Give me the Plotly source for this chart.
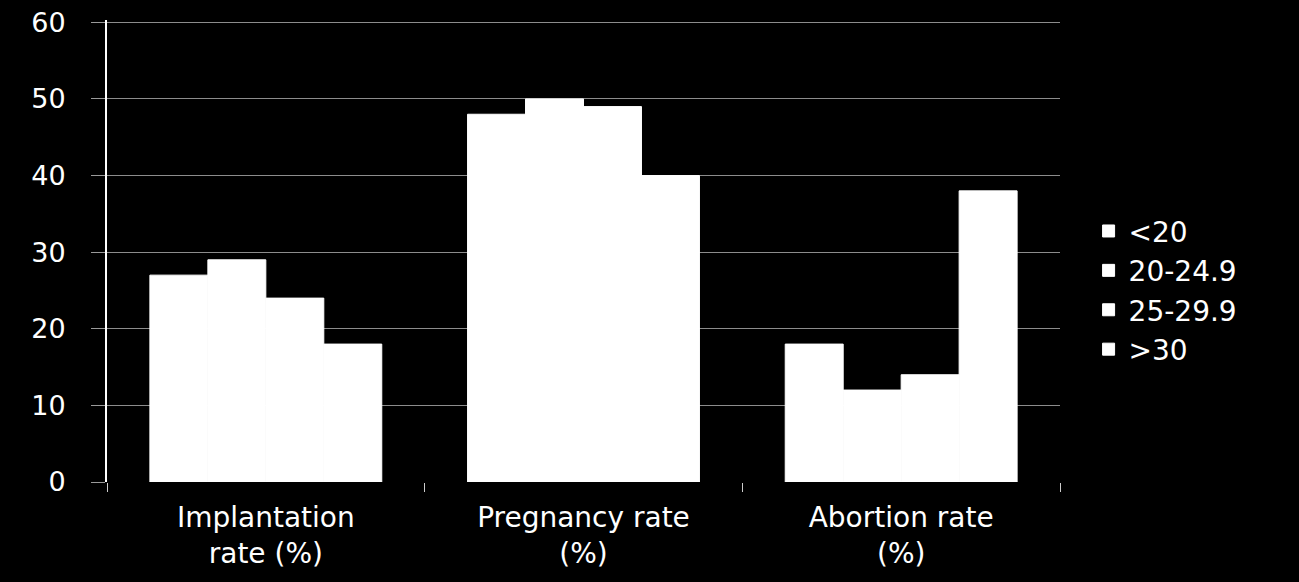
import plotly.graph_objects as go

categories = ["Implantation<br>rate (%)", "Pregnancy rate<br>(%)", "Abortion rate<br>(%)"]
series_names = ["<20", "20-24.9", "25-29.9", ">30"]
values_lt20 = [27, 48, 18]
values_20_249 = [29, 50, 12]
values_25_299 = [24, 49, 14]
values_gt30 = [18, 40, 38]
y_ticks = [0, 10, 20, 30, 40, 50, 60]

series_values = [values_lt20, values_20_249, values_25_299, values_gt30]

fig = go.Figure()
for name, vals in zip(series_names, series_values):
    fig.add_trace(go.Bar(x=categories, y=vals, name=name,
                         marker=dict(color="white", line=dict(width=1, color="white"))))

font_family = "DejaVu Sans, Verdana, sans-serif"
fig.update_layout(
    width=1299, height=582,
    margin=dict(l=107, r=239, t=20, b=100, autoexpand=False),
    paper_bgcolor="black", plot_bgcolor="black",
    barmode="group", bargap=0.27, bargroupgap=0,
    font=dict(family=font_family, color="white", size=27),
    showlegend=True,
    legend=dict(x=1.03, y=0.415, yanchor="middle", xanchor="left",
                font=dict(size=28, color="white"), bgcolor="rgba(0,0,0,0)",
                itemwidth=30, tracegroupgap=0),
    xaxis=dict(tickson="boundaries", ticks="outside", ticklen=9, tickcolor="#cccccc",
               tickwidth=1, showline=False, showgrid=False, ticklabelstandoff=16,
               automargin=False,
               tickfont=dict(size=28, color="white", family=font_family)),
    yaxis=dict(range=[0, 60.3], tickvals=y_ticks, ticks="outside", ticklen=14,
               tickcolor="#999999", showgrid=True, gridcolor="#8c8c8c", gridwidth=1,
               showline=True, linecolor="white", linewidth=2, zeroline=False,
               ticklabelstandoff=20, automargin=False,
               tickfont=dict(size=27, color="white", family=font_family)),
)

fig.write_html("out.html")
